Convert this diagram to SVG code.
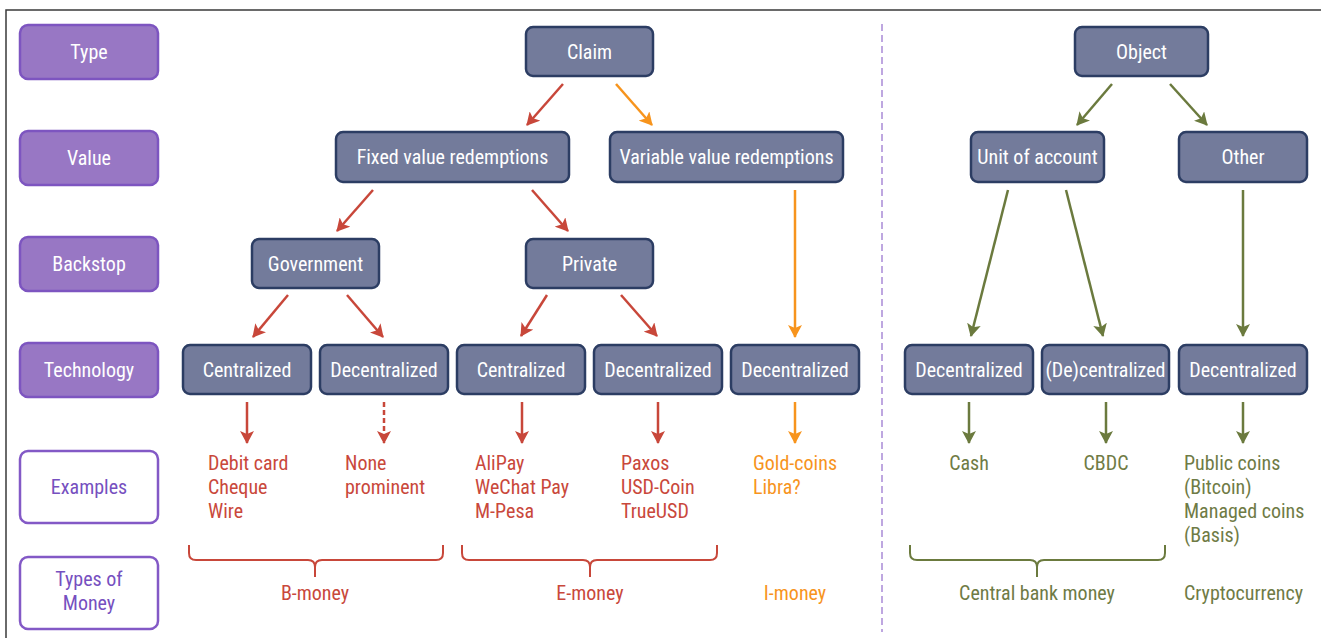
<svg xmlns="http://www.w3.org/2000/svg" width="1321" height="638" viewBox="0 0 1321 638">
<defs>
<marker id="ar" markerUnits="userSpaceOnUse" markerWidth="14" markerHeight="14" viewBox="0 0 14 14" refX="12" refY="7" orient="auto"><path d="M0,0 L13,7 L0,14 L3,7 Z" fill="#c8473a"/></marker>
<marker id="ao" markerUnits="userSpaceOnUse" markerWidth="14" markerHeight="14" viewBox="0 0 14 14" refX="12" refY="7" orient="auto"><path d="M0,0 L13,7 L0,14 L3,7 Z" fill="#f7941d"/></marker>
<marker id="ag" markerUnits="userSpaceOnUse" markerWidth="14" markerHeight="14" viewBox="0 0 14 14" refX="12" refY="7" orient="auto"><path d="M0,0 L13,7 L0,14 L3,7 Z" fill="#6b7a3e"/></marker>
</defs>
<style>
text{font-family:"Liberation Sans Narrow","Roboto Condensed","Liberation Sans",Arial,sans-serif;font-size:20px}
.node rect{fill:#737b9b;stroke:#2c3d63;stroke-width:2.5}
.node text{fill:#ffffff;text-anchor:middle}
.lab rect{fill:#9877c4;stroke:#7d55c0;stroke-width:2.5}
.lab text{fill:#ffffff;text-anchor:middle}
.olab rect{fill:#ffffff;stroke:#8359c6;stroke-width:2.5}
.olab text{fill:#7650c0;text-anchor:middle}
.r{stroke:#c8473a;stroke-width:2.5;fill:none}
.o{stroke:#f7941d;stroke-width:2.5;fill:none}
.g{stroke:#6b7a3e;stroke-width:2.5;fill:none}
.tr{fill:#c9483b}
.to{fill:#f7941d}
.tg{fill:#6f7b45}
.brR{stroke:#c8473a;stroke-width:2;fill:none}
.brG{stroke:#6b7a3e;stroke-width:2;fill:none}
</style>
<rect width="1321" height="638" fill="#ffffff"/>
<path d="M6,638 L6,10 L1321,10" fill="none" stroke="#3a3a3a" stroke-width="1.5"/>
<line x1="882" y1="24" x2="882" y2="632" stroke="#a98ad6" stroke-width="1.5" stroke-dasharray="7,4"/>

<g id="lab-type" class="lab"><rect x="20" y="25" width="138" height="54" rx="8"/><text x="89" y="59">Type</text></g>
<g id="lab-value" class="lab"><rect x="20" y="131" width="138" height="54" rx="8"/><text x="89" y="165">Value</text></g>
<g id="lab-backstop" class="lab"><rect x="20" y="237" width="138" height="54" rx="8"/><text x="89" y="271">Backstop</text></g>
<g id="lab-tech" class="lab"><rect x="20" y="343" width="138" height="54" rx="8"/><text x="89" y="377">Technology</text></g>
<g id="lab-examples" class="olab"><rect x="20" y="451" width="138" height="72" rx="8"/><text x="89" y="494">Examples</text></g>
<g id="lab-types" class="olab"><rect x="20" y="557" width="138" height="72" rx="8"/><text x="89" y="586">Types of</text><text x="89" y="610">Money</text></g>

<g id="claim" class="node"><rect x="526" y="27" width="127" height="49" rx="7"/><text x="589.5" y="58.5">Claim</text></g>
<g id="object" class="node"><rect x="1075" y="27" width="133" height="49" rx="7"/><text x="1141.5" y="58.5">Object</text></g>
<g id="fixed" class="node"><rect x="336" y="132" width="233" height="50" rx="7"/><text x="452.5" y="164">Fixed value redemptions</text></g>
<g id="variable" class="node"><rect x="610" y="132" width="233" height="50" rx="7"/><text x="726.5" y="164">Variable value redemptions</text></g>
<g id="unit" class="node"><rect x="971" y="132" width="133" height="50" rx="7"/><text x="1037.5" y="164">Unit of account</text></g>
<g id="other" class="node"><rect x="1179" y="132" width="128" height="50" rx="7"/><text x="1243" y="164">Other</text></g>
<g id="government" class="node"><rect x="252" y="239" width="127" height="49" rx="7"/><text x="315.5" y="270.5">Government</text></g>
<g id="private" class="node"><rect x="526" y="239" width="127" height="49" rx="7"/><text x="589.5" y="270.5">Private</text></g>
<g id="t1" class="node"><rect x="183" y="345" width="128" height="49" rx="7"/><text x="247" y="376.5">Centralized</text></g>
<g id="t2" class="node"><rect x="320" y="345" width="128" height="49" rx="7"/><text x="384" y="376.5">Decentralized</text></g>
<g id="t3" class="node"><rect x="457" y="345" width="128" height="49" rx="7"/><text x="521" y="376.5">Centralized</text></g>
<g id="t4" class="node"><rect x="594" y="345" width="128" height="49" rx="7"/><text x="658" y="376.5">Decentralized</text></g>
<g id="t5" class="node"><rect x="731" y="345" width="128" height="49" rx="7"/><text x="795" y="376.5">Decentralized</text></g>
<g id="t6" class="node"><rect x="905" y="345" width="128" height="49" rx="7"/><text x="969" y="376.5">Decentralized</text></g>
<g id="t7" class="node"><rect x="1042" y="345" width="127" height="49" rx="7"/><text x="1105.5" y="376.5">(De)centralized</text></g>
<g id="t8" class="node"><rect x="1179" y="345" width="128" height="49" rx="7"/><text x="1243" y="376.5">Decentralized</text></g>

<g id="connectors">
<line class="r" x1="563" y1="84" x2="527" y2="125" marker-end="url(#ar)"/>
<line class="o" x1="616" y1="84" x2="652" y2="125" marker-end="url(#ao)"/>
<line class="r" x1="373" y1="190" x2="337" y2="231" marker-end="url(#ar)"/>
<line class="r" x1="532" y1="190" x2="568" y2="231" marker-end="url(#ar)"/>
<line class="o" x1="795" y1="190" x2="795" y2="337" marker-end="url(#ao)"/>
<line class="r" x1="288" y1="295" x2="253" y2="337" marker-end="url(#ar)"/>
<line class="r" x1="347" y1="295" x2="383" y2="337" marker-end="url(#ar)"/>
<line class="r" x1="547" y1="295" x2="521" y2="336" marker-end="url(#ar)"/>
<line class="r" x1="621" y1="295" x2="657" y2="336" marker-end="url(#ar)"/>
<line class="g" x1="1112" y1="84" x2="1077" y2="125" marker-end="url(#ag)"/>
<line class="g" x1="1170" y1="84" x2="1207" y2="125" marker-end="url(#ag)"/>
<line class="g" x1="1008" y1="190" x2="971" y2="336" marker-end="url(#ag)"/>
<line class="g" x1="1066" y1="190" x2="1103" y2="336" marker-end="url(#ag)"/>
<line class="g" x1="1243" y1="190" x2="1243" y2="336" marker-end="url(#ag)"/>
<line class="r" x1="247" y1="402" x2="247" y2="443" marker-end="url(#ar)"/>
<line class="r" x1="384" y1="402" x2="384" y2="443" stroke-dasharray="5,3" marker-end="url(#ar)"/>
<line class="r" x1="522" y1="402" x2="522" y2="443" marker-end="url(#ar)"/>
<line class="r" x1="658" y1="402" x2="658" y2="443" marker-end="url(#ar)"/>
<line class="o" x1="795" y1="402" x2="795" y2="443" marker-end="url(#ao)"/>
<line class="g" x1="969" y1="402" x2="969" y2="443" marker-end="url(#ag)"/>
<line class="g" x1="1106" y1="402" x2="1106" y2="443" marker-end="url(#ag)"/>
<line class="g" x1="1243" y1="402" x2="1243" y2="443" marker-end="url(#ag)"/>
</g>

<g id="examples">
<text class="tr" x="208" y="470">Debit card</text>
<text class="tr" x="208" y="494">Cheque</text>
<text class="tr" x="208" y="518">Wire</text>
<text class="tr" x="345" y="470">None</text>
<text class="tr" x="345" y="494">prominent</text>
<text class="tr" x="475" y="470">AliPay</text>
<text class="tr" x="475" y="494">WeChat Pay</text>
<text class="tr" x="475" y="518">M-Pesa</text>
<text class="tr" x="621" y="470">Paxos</text>
<text class="tr" x="621" y="494">USD-Coin</text>
<text class="tr" x="621" y="518">TrueUSD</text>
<text class="to" x="753" y="470">Gold-coins</text>
<text class="to" x="753" y="494">Libra?</text>
<text class="tg" x="969" y="470" text-anchor="middle">Cash</text>
<text class="tg" x="1106" y="470" text-anchor="middle">CBDC</text>
<text class="tg" x="1184" y="470">Public coins</text>
<text class="tg" x="1184" y="494">(Bitcoin)</text>
<text class="tg" x="1184" y="518">Managed coins</text>
<text class="tg" x="1184" y="542">(Basis)</text>
</g>

<g id="braces">
<path class="brR" d="M189,545 L189,553 Q189,560 196,560 L308,560 Q315,560 315,567 L315,577 M315,567 Q315,560 322,560 L436,560 Q443,560 443,553 L443,545"/>
<path class="brR" d="M462,545 L462,553 Q462,560 469,560 L583,560 Q590,560 590,567 L590,577 M590,567 Q590,560 597,560 L710,560 Q717,560 717,553 L717,545"/>
<path class="brG" d="M910,545 L910,553 Q910,560 917,560 L1030,560 Q1037,560 1037,567 L1037,577 M1037,567 Q1037,560 1044,560 L1158,560 Q1165,560 1165,553 L1165,545"/>
</g>

<g id="money">
<text class="tr" x="315" y="600" text-anchor="middle">B-money</text>
<text class="tr" x="590" y="600" text-anchor="middle">E-money</text>
<text class="to" x="795" y="600" text-anchor="middle">I-money</text>
<text class="tg" x="1037" y="600" text-anchor="middle">Central bank money</text>
<text class="tg" x="1184" y="600">Cryptocurrency</text>
</g>
</svg>
